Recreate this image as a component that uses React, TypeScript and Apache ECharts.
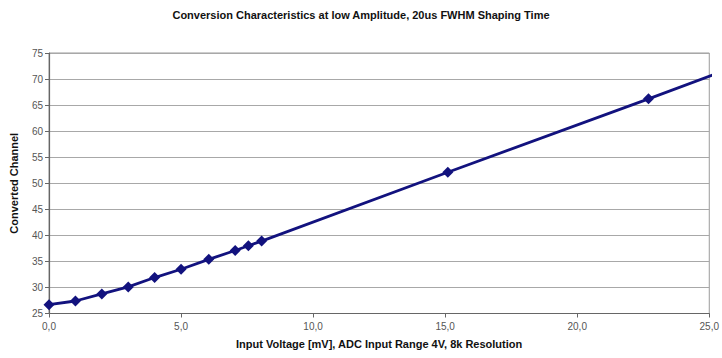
import React, { useEffect, useRef } from "react";
import * as echarts from "echarts";

const titleText = "Conversion Characteristics at low Amplitude, 20us FWHM Shaping Time";
const xAxisName = "Input Voltage [mV], ADC Input Range 4V, 8k Resolution";
const yAxisName = "Converted Channel";
const inputVoltage = [0, 1, 2, 3, 4, 5, 6.05, 7.05, 7.55, 8.05, 15.1, 22.7, 25.25];
const convertedChannel = [26.7, 27.4, 28.75, 30.1, 31.9, 33.5, 35.4, 37.1, 38.0, 38.9, 52.1, 66.2, 71.0];
const showMarker = [true, true, true, true, true, true, true, true, true, true, true, true, false];

export default function App() {
  const ref = useRef<HTMLDivElement>(null);
  useEffect(() => {
    const chart = echarts.init(ref.current!, null, { renderer: "svg" });
    const font = "'Liberation Sans', Arial, sans-serif";
    chart.setOption({
      animation: false,
      title: {
        text: titleText,
        left: "center",
        top: 4,
        textStyle: { fontFamily: font, fontSize: 11, fontWeight: "bold", color: "#111" },
      },
      grid: {
        left: 48.5,
        right: 10.5,
        top: 53,
        bottom: 44.5,
        show: true,
        borderColor: "#9a9a9a",
        borderWidth: 1,
      },
      xAxis: {
        type: "value",
        min: 0,
        max: 25,
        interval: 5,
        name: xAxisName,
        nameLocation: "middle",
        nameGap: 25,
        nameTextStyle: { fontFamily: font, fontSize: 11, fontWeight: "bold", color: "#111" },
        axisLine: { show: true, lineStyle: { color: "#666", width: 1.2 } },
        axisTick: { show: true, length: 4, lineStyle: { color: "#666" } },
        axisLabel: {
          fontFamily: font,
          fontSize: 10,
          color: "#555",
          margin: 8,
          formatter: (v: number) => v.toFixed(1).replace(".", ","),
        },
        splitLine: { show: false },
      },
      yAxis: {
        type: "value",
        min: 25,
        max: 75,
        interval: 5,
        name: yAxisName,
        nameLocation: "middle",
        nameGap: 30,
        nameTextStyle: { fontFamily: font, fontSize: 11, fontWeight: "bold", color: "#111" },
        axisLine: { show: true, lineStyle: { color: "#666", width: 1.2 } },
        axisTick: { show: true, length: 4, lineStyle: { color: "#666" } },
        axisLabel: { fontFamily: font, fontSize: 10, color: "#555", margin: 6 },
        splitLine: { show: true, lineStyle: { color: "#a8a8a8", width: 1 } },
      },
      series: [
        {
          type: "line",
          data: inputVoltage.map((x, i) => ({
            value: [x, convertedChannel[i]],
            symbol: showMarker[i] ? "diamond" : "none",
          })),
          symbolSize: 11,
          lineStyle: { color: "#12127e", width: 2.8 },
          itemStyle: { color: "#12127e" },
          clip: false,
        },
      ],
    });
    return () => chart.dispose();
  }, []);
  return <div ref={ref} style={{ width: 722, height: 358, position: "absolute", left: 0, top: 0 }} />;
}
